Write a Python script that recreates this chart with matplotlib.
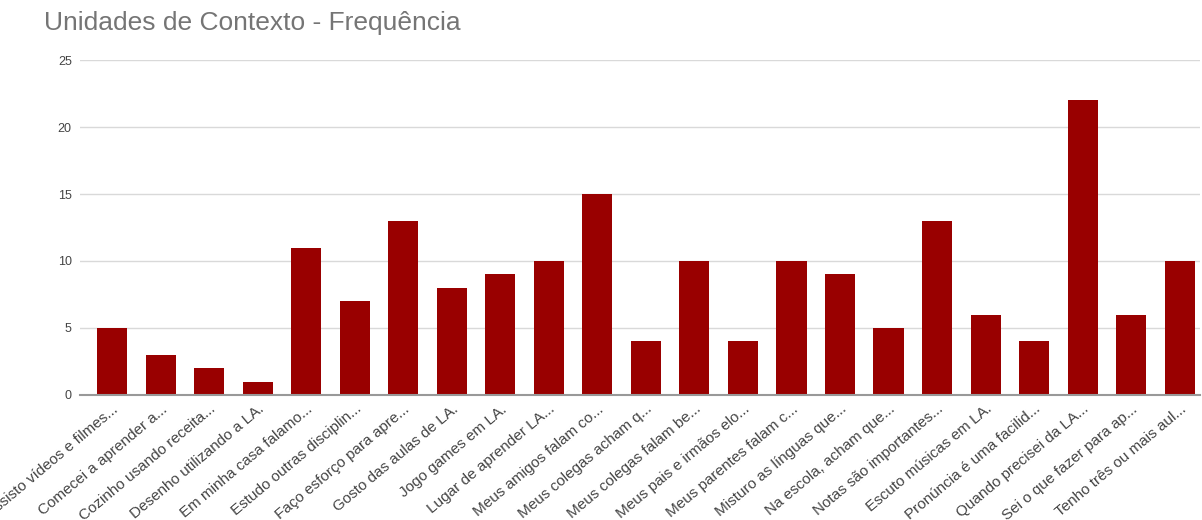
import matplotlib
matplotlib.use("Agg")
import matplotlib.pyplot as plt

plt.rcParams["font.family"] = ["Liberation Sans", "DejaVu Sans"]

categories = [
  "Assisto vídeos e filmes...",
  "Comecei a aprender a...",
  "Cozinho usando receita...",
  "Desenho utilizando a LA.",
  "Em minha casa falamo...",
  "Estudo outras disciplin...",
  "Faço esforço para apre...",
  "Gosto das aulas de LA.",
  "Jogo games em LA.",
  "Lugar de aprender LA...",
  "Meus amigos falam co...",
  "Meus colegas acham q...",
  "Meus colegas falam be...",
  "Meus pais e irmãos elo...",
  "Meus parentes falam c...",
  "Misturo as línguas que...",
  "Na escola, acham que...",
  "Notas são importantes...",
  "Escuto músicas em LA.",
  "Pronúncia é uma facilid...",
  "Quando precisei da LA...",
  "Sei o que fazer para ap...",
  "Tenho três ou mais aul...",
]
frequency = [5, 3, 2, 1, 11, 7, 13, 8, 9, 10, 15, 4, 10, 4, 10, 9, 5, 13, 6, 4, 22, 6, 10]

BAR_COLOR = "#990000"
TEXT_COLOR = "#444444"

fig = plt.figure(figsize=(12.02, 5.2), dpi=100)
ax = fig.add_axes([0.0666, 0.2404, 0.9314, 0.6442])

x = range(len(categories))
ax.bar(x, frequency, width=0.62, color=BAR_COLOR, zorder=3)

ax.set_xlim(-0.66, len(categories) - 1 + 0.41)
ax.set_ylim(0, 25)
ax.set_yticks([0, 5, 10, 15, 20, 25])
ax.yaxis.grid(True, color="#d9d9d9", linewidth=1, zorder=0)
ax.tick_params(axis="y", length=0, pad=6, labelsize=9, labelcolor=TEXT_COLOR)

# long answer labels run off the bottom edge, as in the source sheet
ax.set_xticks(list(x))
ax.set_xticklabels(categories, rotation=40, ha="right", rotation_mode="anchor",
                   fontsize=11, color=TEXT_COLOR)
ax.tick_params(axis="x", length=0, pad=5)

for side in ["top", "right", "left"]:
  ax.spines[side].set_visible(False)
ax.spines["bottom"].set_color("#999999")
ax.spines["bottom"].set_linewidth(1.5)
ax.spines["bottom"].set_zorder(4)

fig.text(0.037, 0.955, "Unidades de Contexto - Frequência", fontsize=19,
         color="#757575", va="center", ha="left")

fig.savefig("out.png", dpi=100)
